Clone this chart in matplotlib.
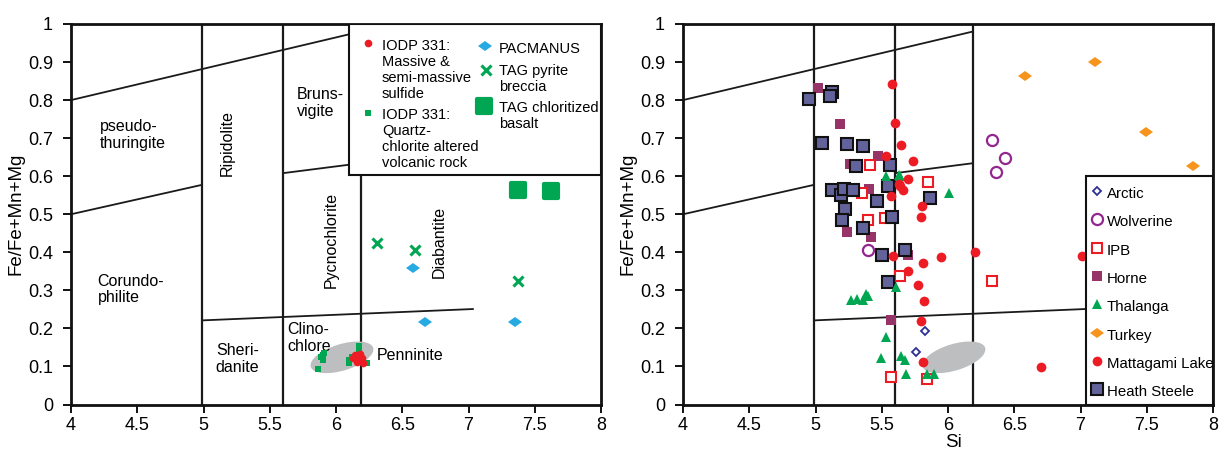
import matplotlib
matplotlib.use('Agg')
import matplotlib.pyplot as plt
import matplotlib.transforms as mtransforms
from matplotlib.patches import Ellipse, Rectangle
from matplotlib.markers import MarkerStyle

plt.rcParams['font.family'] = ['Liberation Sans', 'DejaVu Sans']

# ---------------- data ----------------
x_ticks = [4, 4.5, 5, 5.5, 6, 6.5, 7, 7.5, 8]
x_tick_labels = ['4', '4.5', '5', '5.5', '6', '6.5', '7', '7.5', '8']
y_ticks = [0, 0.1, 0.2, 0.3, 0.4, 0.5, 0.6, 0.7, 0.8, 0.9, 1.0]
y_tick_labels = ['0', '0.1', '0.2', '0.3', '0.4', '0.5', '0.6', '0.7', '0.8', '0.9', '1']

# chlorite classification field boundaries (Si, Fe/Fe+Mn+Mg)
boundary_segments = [
    [(4.0, 0.80), (6.185, 0.98)],
    [(4.0, 0.50), (4.985, 0.577)],
    [(5.60, 0.608), (6.185, 0.634)],
    [(4.985, 0.221), (7.04, 0.251)],
    [(4.985, 0.0), (4.985, 1.0)],
    [(5.60, 0.0), (5.60, 1.0)],
    [(6.185, 0.0), (6.185, 1.0)],
]

field_names = ['pseudo-\nthuringite', 'Ripidolite', 'Bruns-\nvigite', 'Corundo-\nphilite',
               'Pycnochlorite', 'Diabantite', 'Clino-\nchlore', 'Sheri-\ndanite', 'Penninite']
field_x = [4.215, 5.179, 5.707, 4.20, 5.962, 6.776, 5.63, 5.093, 6.31]
field_y = [0.709, 0.687, 0.792, 0.302, 0.433, 0.427, 0.175, 0.12, 0.129]
field_rot = [0, 90, 0, 0, 90, 90, 0, 0, 0]

# altered-rock field (gray ellipse)
ellipse_center = (6.045, 0.124)

# left panel series
iodp_sulfide_si = [6.143, 6.181, 6.193, 6.155, 6.20, 6.13, 6.175, 6.165]
iodp_sulfide_fe = [0.129, 0.133, 0.121, 0.112, 0.109, 0.121, 0.123, 0.128]
iodp_qc_si = [5.904, 5.90, 5.89, 5.91, 5.905, 5.867, 6.176, 6.17, 6.10, 6.095, 6.236, 6.22, 6.12]
iodp_qc_fe = [0.129, 0.116, 0.125, 0.135, 0.12, 0.092, 0.153, 0.145, 0.116, 0.109, 0.11, 0.108, 0.124]
pacmanus_si = [6.579, 6.669, 7.352]
pacmanus_fe = [0.359, 0.216, 0.216]
tag_pyrite_si = [6.307, 6.597, 7.373]
tag_pyrite_fe = [0.424, 0.407, 0.324]
tag_basalt_si = [7.373, 7.621]
tag_basalt_fe = [0.564, 0.560]

# right panel series
arctic_si = [5.830, 5.757]
arctic_fe = [0.192, 0.139]
wolverine_si = [6.329, 6.430, 6.362, 5.397]
wolverine_fe = [0.694, 0.649, 0.612, 0.405]
ipb_si = [5.410, 5.852, 5.350, 5.399, 5.527, 5.638, 6.335, 5.573, 5.839]
ipb_fe = [0.629, 0.586, 0.556, 0.486, 0.491, 0.338, 0.324, 0.073, 0.067]
horne_si = [5.020, 5.182, 5.470, 5.264, 5.405, 5.237, 5.418, 5.695, 5.570]
horne_fe = [0.831, 0.736, 0.652, 0.633, 0.567, 0.453, 0.441, 0.392, 0.223]
thalanga_si = [5.535, 5.627, 5.640, 6.007, 5.269, 5.310, 5.378, 5.397, 5.361, 5.605,
               5.532, 5.492, 5.649, 5.676, 5.684, 5.839, 5.893]
thalanga_fe = [0.601, 0.604, 0.600, 0.557, 0.274, 0.278, 0.290, 0.284, 0.274, 0.309,
               0.177, 0.122, 0.127, 0.118, 0.080, 0.081, 0.081]
turkey_si = [6.579, 7.111, 7.493, 7.851]
turkey_fe = [0.864, 0.900, 0.716, 0.626]
mattagami_si = [5.578, 5.603, 5.649, 5.535, 5.736, 5.695, 5.641, 5.660, 5.630, 5.567, 5.803,
                5.793, 5.586, 5.809, 5.950, 6.202, 5.695, 5.776, 5.817, 5.795, 5.809, 6.701, 7.010]
mattagami_fe = [0.843, 0.741, 0.682, 0.652, 0.641, 0.593, 0.573, 0.564, 0.580, 0.549, 0.521,
                0.493, 0.391, 0.373, 0.387, 0.402, 0.350, 0.314, 0.271, 0.220, 0.111, 0.098, 0.389]
heath_si = [4.949, 5.125, 5.106, 5.052, 5.234, 5.356, 5.302, 5.562, 5.125, 5.193, 5.212,
            5.283, 5.548, 5.462, 5.863, 5.220, 5.201, 5.576, 5.361, 5.679, 5.500, 5.548]
heath_fe = [0.803, 0.822, 0.812, 0.688, 0.684, 0.680, 0.626, 0.629, 0.563, 0.550, 0.566,
            0.564, 0.575, 0.535, 0.542, 0.514, 0.486, 0.493, 0.463, 0.407, 0.393, 0.321]

left_legend_labels = ['IODP 331:\nMassive &\nsemi-massive\nsulfide',
                      'IODP 331:\nQuartz-\nchlorite altered\nvolcanic rock',
                      'PACMANUS', 'TAG pyrite\nbreccia', 'TAG chloritized\nbasalt']
right_legend_labels = ['Arctic', 'Wolverine', 'IPB', 'Horne', 'Thalanga', 'Turkey',
                       'Mattagami Lake', 'Heath Steele']

# ---------------- styles ----------------
RED = '#ED1C24'
GREEN = '#00A651'
CYAN = '#27AAE1'
ORANGE = '#F7941D'
PURPLE = '#92278F'
NAVY = '#2E3192'
MAROON = '#963468'
SLATE = '#63639C'
GRAY = '#BDBEC0'

rsq = MarkerStyle('s', joinstyle='round')
flat_diamond = MarkerStyle('D', transform=mtransforms.Affine2D().scale(1.15, 0.8))

left_styles = [
    dict(marker='o', color=RED, ms=5.5, mec=RED, mew=0),
    dict(marker='s', color=GREEN, ms=4.2, mec=GREEN, mew=0),
    dict(marker=flat_diamond, color=CYAN, ms=6.5, mec=CYAN, mew=0),
    dict(marker='x', color=GREEN, ms=6.5, mec=GREEN, mew=2.2),
    dict(marker=rsq, color=GREEN, ms=10.5, mec=GREEN, mew=3),
]
right_styles = {
    'Arctic': dict(marker='D', mfc='white', mec=NAVY, ms=4.5, mew=1.3),
    'Wolverine': dict(marker='o', mfc='white', mec=PURPLE, ms=8, mew=1.6),
    'IPB': dict(marker='s', mfc='white', mec=RED, ms=6.5, mew=1.5),
    'Horne': dict(marker='s', mfc=MAROON, mec=MAROON, ms=6.5, mew=0),
    'Thalanga': dict(marker='^', mfc=GREEN, mec=GREEN, ms=7.5, mew=0),
    'Turkey': dict(marker=flat_diamond, mfc=ORANGE, mec=ORANGE, ms=6.5, mew=0),
    'Mattagami Lake': dict(marker='o', mfc=RED, mec=RED, ms=7, mew=0),
    'Heath Steele': dict(marker='s', mfc=SLATE, mec='#111111', ms=9, mew=1.5),
}

W, H = 1223, 451
fig = plt.figure(figsize=(W / 100, H / 100), dpi=100)
ax1 = fig.add_axes([71 / W, 1 - 404.5 / H, 530 / W, 380.5 / H])
ax2 = fig.add_axes([683 / W, 1 - 404.5 / H, 530 / W, 380.5 / H])


def setup(ax):
    ax.set_xlim(4, 8)
    ax.set_ylim(0, 1)
    ax.set_xticks(x_ticks)
    ax.set_xticklabels(x_tick_labels)
    ax.set_yticks(y_ticks)
    ax.set_yticklabels(y_tick_labels)
    ax.tick_params(direction='out', length=6, width=1.4, labelsize=13, color='#111111')
    ax.tick_params(axis='x', pad=3)
    ax.tick_params(axis='y', pad=7)
    for s in ax.spines.values():
        s.set_linewidth(2.0)
        s.set_color('#111111')
    ax.set_ylabel('Fe/Fe+Mn+Mg', fontsize=13.5)
    ax.yaxis.set_label_coords(-0.087, 0.5)
    for seg in boundary_segments:
        (xa, ya), (xb, yb) = seg
        lw = 1.6 if xa == xb else 1.3
        ax.plot([xa, xb], [ya, yb], color='#1a1a1a', lw=lw, zorder=1, solid_capstyle='butt')
    # gray ellipse, sized in points around data centre
    tr = (mtransforms.Affine2D().scale(1 / 72.) + fig.dpi_scale_trans +
          mtransforms.ScaledTranslation(ellipse_center[0], ellipse_center[1], ax.transData))
    e = Ellipse((0, 0), width=47, height=19, angle=17, transform=tr,
                facecolor=GRAY, edgecolor='none', zorder=2)
    ax.add_artist(e)


setup(ax1)
setup(ax2)

# ---------- left panel ----------
for name, xx, yy, rot in zip(field_names, field_x, field_y, field_rot):
    if rot:
        ax1.text(xx, yy, name, rotation=90, ha='center', va='center', fontsize=11.5, zorder=3)
    else:
        ax1.text(xx, yy, name, ha='left', va='center', fontsize=11.5, linespacing=1.15, zorder=3)

left_series = [(iodp_qc_si, iodp_qc_fe), (iodp_sulfide_si, iodp_sulfide_fe),
               (pacmanus_si, pacmanus_fe), (tag_pyrite_si, tag_pyrite_fe),
               (tag_basalt_si, tag_basalt_fe)]
left_style_order = [1, 0, 2, 3, 4]
for (xs, ys), si in zip(left_series, left_style_order):
    ax1.plot(xs, ys, linestyle='none', zorder=4, **left_styles[si])

# left legend box
ax1.add_patch(Rectangle((6.096, 0.602), 8 - 6.096, 0.398, facecolor='white',
                        edgecolor='#111111', lw=1.5, zorder=5))
leg_marker_x = [6.238, 6.238, 7.128, 7.134, 7.119]
leg_marker_y = [0.950, 0.765, 0.941, 0.880, 0.784]
leg_text_x = [6.346, 6.346, 7.229, 7.229, 7.229]
leg_text_y = [0.9466, 0.764, 0.937, 0.880, 0.784]
line_pitch = 16 / 380.
for lab, mx, my, tx, ty, st in zip(left_legend_labels, leg_marker_x, leg_marker_y,
                                    leg_text_x, leg_text_y, left_styles):
    ax1.plot([mx], [my], linestyle='none', zorder=6, **st)
    for k, line in enumerate(lab.split('\n')):
        ax1.text(tx, ty - k * line_pitch, line, ha='left', va='center_baseline',
                 fontsize=10.5, zorder=6)

# ---------- right panel ----------
right_data = {
    'Horne': (horne_si, horne_fe),
    'IPB': (ipb_si, ipb_fe),
    'Heath Steele': (heath_si, heath_fe),
    'Thalanga': (thalanga_si, thalanga_fe),
    'Mattagami Lake': (mattagami_si, mattagami_fe),
    'Wolverine': (wolverine_si, wolverine_fe),
    'Arctic': (arctic_si, arctic_fe),
    'Turkey': (turkey_si, turkey_fe),
}
for name, (xs, ys) in right_data.items():
    ax2.plot(xs, ys, linestyle='none', zorder=4, **right_styles[name])

ax2.set_xlabel('Si', fontsize=13.5)
ax2.xaxis.set_label_coords(0.51, -0.078)

ax2.add_patch(Rectangle((7.04, 0.0), 0.96, 0.6, facecolor='white',
                        edgecolor='#111111', lw=1.5, zorder=5))
for k, name in enumerate(right_legend_labels):
    yy = 0.557 - k * 0.0745
    ax2.plot([7.122], [yy + 0.004], linestyle='none', zorder=6, **right_styles[name])
    ax2.text(7.20, yy, name, ha='left', va='center_baseline', fontsize=10.8, zorder=6)

fig.savefig('out.png', dpi=100)
